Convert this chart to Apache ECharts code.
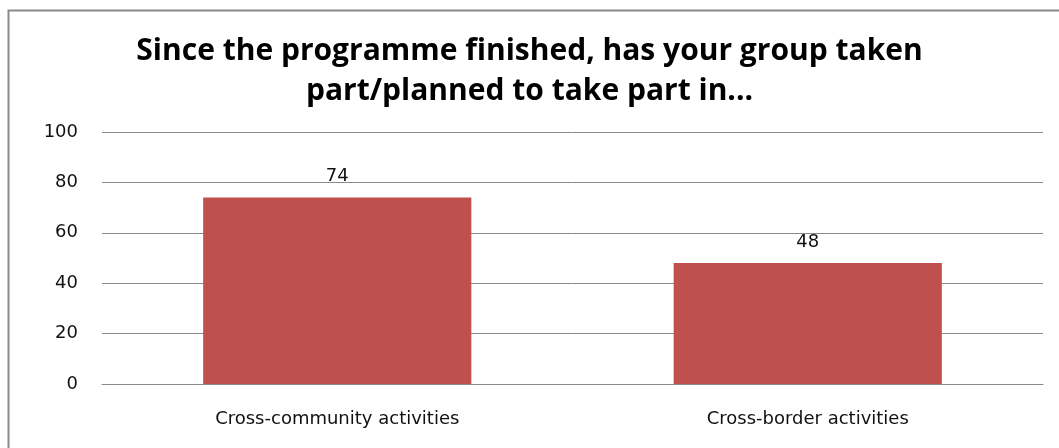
<!DOCTYPE html>
<html>
<head>
<meta charset="utf-8">
<script src="https://cdn.jsdelivr.net/npm/echarts@6/dist/echarts.min.js"></script>
<style>
  html, body { margin: 0; padding: 0; background: #fff; }
  #chart { width: 1059px; height: 448px; }
</style>
</head>
<body>
<div id="chart"></div>
<script>
const titleText = 'Since the programme finished, has your group taken\npart/planned to take part in...'
const categories = ['Cross-community activities', 'Cross-border activities']
const values = [74, 48]
const yTicks = {min: 0, max: 100, interval: 20}

const labelFont = 'DejaVu Sans'

const chart = echarts.init(document.getElementById('chart'))
chart.setOption({
  animation: false,
  backgroundColor: '#fff',
  textStyle: {fontFamily: labelFont},
  graphic: [
    {
      type: 'rect',
      shape: {x: 8.5, y: 10.5, width: 1200, height: 600},
      style: {fill: 'none', stroke: '#8a8a8a', lineWidth: 2},
      silent: true
    }
  ],
  title: {
    text: titleText,
    left: 'center',
    top: 26,
    textStyle: {
      fontFamily: 'Open Sans',
      fontSize: 30,
      fontWeight: 'bold',
      color: '#000',
      lineHeight: 40
    }
  },
  grid: {left: 102, right: 16, top: 132, bottom: 64},
  xAxis: {
    type: 'category',
    data: categories,
    axisLine: {lineStyle: {color: '#8a8a8a'}},
    axisTick: {show: false},
    axisLabel: {color: '#111', fontSize: 18, fontFamily: labelFont, margin: 26}
  },
  yAxis: {
    type: 'value',
    min: yTicks.min,
    max: yTicks.max,
    interval: yTicks.interval,
    axisLine: {show: false},
    axisTick: {show: false},
    axisLabel: {color: '#111', fontSize: 18, fontFamily: labelFont, margin: 24},
    splitLine: {lineStyle: {color: '#8a8a8a'}}
  },
  series: [
    {
      type: 'bar',
      data: values,
      barWidth: '57%',
      itemStyle: {color: '#C0504D'},
      label: {show: true, position: 'top', color: '#111', fontSize: 18, fontFamily: labelFont, distance: 12}
    }
  ]
})
</script>
</body>
</html>
